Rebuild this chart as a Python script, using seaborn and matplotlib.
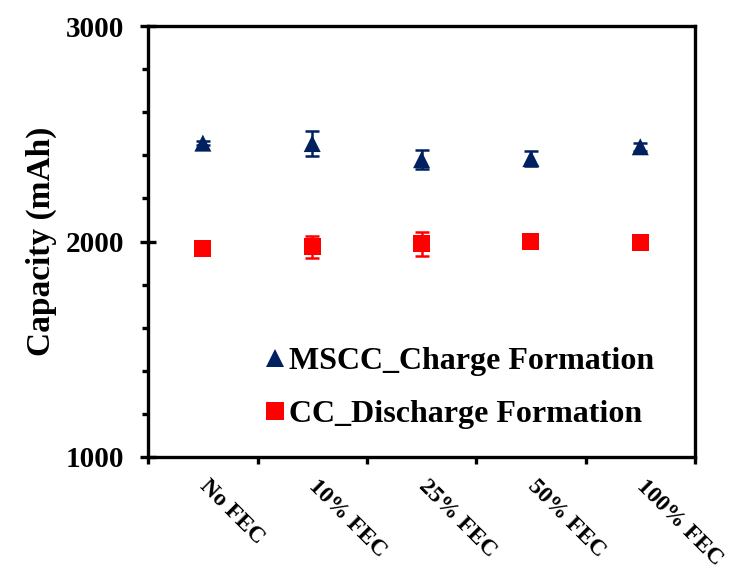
"""Formation capacity vs FEC content, charge and discharge."""

import matplotlib

matplotlib.use("Agg")

import matplotlib.pyplot as plt
import pandas as pd
import seaborn as sns
from matplotlib.ticker import FixedLocator, MultipleLocator

# values
CATEGORIES = ["No FEC", "10% FEC", "25% FEC", "50% FEC", "100% FEC"]
CHARGE_MEAN = [2457, 2455, 2380, 2385, 2440]
CHARGE_ERR = [8, 60, 45, 35, 18]
DISCHARGE_MEAN = [1967, 1975, 1990, 1998, 1995]
DISCHARGE_ERR = [5, 50, 55, 12, 5]

NAVY = "#002060"
RED = "#FF0000"

sns.set_theme(style="white")
plt.rcParams["font.family"] = ["Liberation Serif", "DejaVu Serif"]
plt.rcParams["font.weight"] = "bold"
for key in ["text.color", "axes.labelcolor", "xtick.color", "ytick.color"]:
    plt.rcParams[key] = "black"

df = pd.DataFrame({
    "pos": list(range(len(CATEGORIES))) * 2,
    "capacity": CHARGE_MEAN + DISCHARGE_MEAN,
    "err": CHARGE_ERR + DISCHARGE_ERR,
    "series": ["MSCC_Charge Formation"] * 5 + ["CC_Discharge Formation"] * 5,
})

fig, ax = plt.subplots(figsize=(7.3, 5.69), dpi=100)
fig.subplots_adjust(left=0.203, right=0.952, top=0.954, bottom=0.197)

for (name, grp), color in zip(df.groupby("series", sort=False), [NAVY, RED]):
    ax.errorbar(grp["pos"], grp["capacity"], yerr=grp["err"], fmt="none",
                ecolor=color, elinewidth=1.8, capsize=5, capthick=1.8, zorder=2)

sns.scatterplot(data=df, x="pos", y="capacity", hue="series", style="series",
                palette=[NAVY, RED], markers=["^", "s"], s=150, linewidth=0,
                ax=ax, zorder=3)

ax.set_xlim(-0.5, 4.5)
ax.set_ylim(1000, 3000)
ax.set_xticks(range(len(CATEGORIES)))
ax.set_xticklabels(CATEGORIES, rotation=-45, ha="left", va="center",
                   rotation_mode="anchor", fontsize=17, fontweight="bold")
ax.xaxis.set_minor_locator(FixedLocator([i - 0.5 for i in range(len(CATEGORIES) + 1)]))
ax.tick_params(axis="x", which="major", length=0, pad=19)
ax.tick_params(axis="x", which="minor", direction="out", length=5, width=2.4,
               bottom=True)

ax.yaxis.set_major_locator(MultipleLocator(1000))
ax.yaxis.set_minor_locator(MultipleLocator(200))
ax.tick_params(axis="y", which="major", direction="inout", length=11, width=2.4,
               labelsize=21, left=True, pad=12)
ax.tick_params(axis="y", which="minor", direction="out", length=4, width=2.4,
               left=True)
for lbl in ax.get_yticklabels():
    lbl.set_fontweight("bold")

ax.set_xlabel("")
ax.set_ylabel("Capacity (mAh)", fontsize=24, fontweight="bold", labelpad=6)

for spine in ax.spines.values():
    spine.set_visible(True)
    spine.set_color("black")
    spine.set_linewidth(2.4)

ax.legend(title=None, frameon=False, loc="center left",
          bbox_to_anchor=(0.208, 0.16), prop={"size": 23, "weight": "bold"},
          handlelength=0.8, handletextpad=0.05, labelspacing=0.72,
          borderaxespad=0, borderpad=0)

fig.savefig("out.png", dpi=100)
